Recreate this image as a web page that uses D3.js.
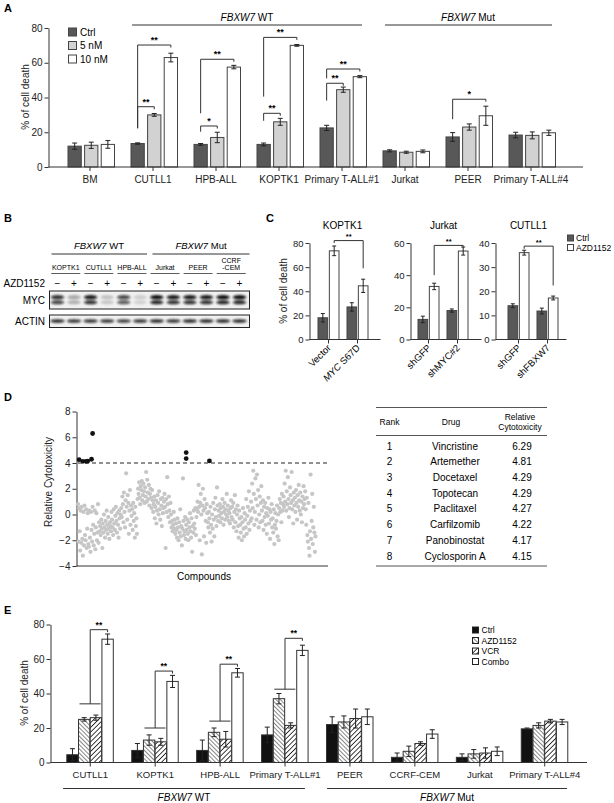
<!DOCTYPE html>
<html>
<head>
<meta charset="utf-8">
<script src="https://cdn.jsdelivr.net/npm/d3@7"></script>
<style>
  body { margin: 0; background: #fff; }
  svg { font-family: "Liberation Sans", Arial, sans-serif; }
  .axis path, .axis line { stroke: #333; }
  .axis text { fill: #222; }
</style>
</head>
<body>
<svg id="fig" width="614" height="803"></svg>
<script>
// ---------- panel A data
var aGroups = ["BM", "CUTLL1", "HPB-ALL", "KOPTK1", "Primary T-ALL#1", "Jurkat", "PEER", "Primary T-ALL#4"];
var aDoses = ["Ctrl", "5 nM", "10 nM"];
var aMean = [[12, 12.5, 13], [13.5, 30, 63], [13, 17, 57.5], [13, 26, 70], [22.5, 44.5, 52], [9.3, 8.5, 9], [17.3, 23, 29.5], [18.4, 18.2, 19.7]];
var aErr = [[1.8, 1.8, 2.2], [0.4, 0.8, 2.5], [0.5, 3, 1], [0.8, 2, 0.5], [1.5, 1.5, 0.6], [0.6, 0.6, 0.8], [2.5, 1.8, 5.5], [1.6, 2, 1.5]];
var aTicks = [0, 20, 40, 60, 80];
var aSig = [
  {g: 1, to: 1, base: 22.3, top: 34.7, label: "**"},
  {g: 1, to: 2, base: 22.3, top: 70.2, label: "**"},
  {g: 2, to: 1, base: 20.3, top: 23.6, label: "*"},
  {g: 2, to: 2, base: 30.9, top: 62, label: "**"},
  {g: 3, to: 1, base: 26.6, top: 30.9, label: "**"},
  {g: 3, to: 2, base: 40.5, top: 74.6, label: "**"},
  {g: 4, to: 1, base: 38.2, top: 48.2, label: "**"},
  {g: 4, to: 2, base: 51, top: 56.4, label: "**"},
  {g: 6, to: 2, base: 27.5, top: 39, label: "*"}
];

// ---------- panel B data
var blotLines = ["KOPTK1", "CUTLL1", "HPB-ALL", "Jurkat", "PEER", "CCRF-CEM"];
var mycLevel = [0.85, 0.3, 0.95, 0.2, 0.75, 0.15, 1, 0.95, 0.95, 0.95, 1, 1];
var actinLevel = [0.9, 0.85, 0.85, 0.85, 0.8, 0.85, 0.9, 0.85, 0.9, 0.9, 0.9, 0.9];

// ---------- panel C data
var cTitles = ["KOPTK1", "Jurkat", "CUTLL1"];
var cGroups = [["Vector", "MYC S67D"], ["shGFP", "shMYC#2"], ["shGFP", "shFBXW7"]];
var cMean = [[[18, 73.5], [27, 44.5]], [[12.5, 33], [18, 55]], [[14, 36], [11.8, 17.2]]];
var cErr = [[[3.5, 4], [3.5, 5.5]], [[2, 2], [1, 2.5]], [[0.8, 1], [1.2, 0.8]]];
var cMax = [80, 60, 40];
var cTicks = [[0, 20, 40, 60, 80], [0, 20, 40, 60], [0, 10, 20, 30, 40]];
var cSig = [{y: 82, left: 80, right: 59}, {y: 58.5, left: 40, right: 57.5}, {y: 38.7, left: 37.6, right: 22.4}];

// ---------- panel D data
var screenScores = [
  0.8, -2.1, 0.5, -1.3, -2.8, 0.3, -2.2, 0.6, -1.9, -3.2, 0.2, -2.4, 0.7, -1.6, -2.0, 0.4, -2.6, -1.1, 0.1, -2.3,
  -2.5, 0.3, -1.8, -2.9, 0.2, -1.2, -2.1, 0.6, -0.8, -2.4, -1.5, 0.3, -2.7, -1.0, 0.1, -2.0, -1.4, 0.8, -2.2, -0.6,
  -1.3, -0.9, -1.6, -0.4, -1.1, -2.6, -0.7, -1.4, 0.0, -1.0, -1.8, -0.5, -1.2, 0.3, -0.8, -1.5, -0.2, -1.1, -1.9, -0.6,
  -0.9, -1.3, 0.2, -0.4, -1.0, -1.6, 0.4, -0.7, -1.2, -0.1, 0.6, -0.5, -1.4, 0.1, -0.8, -1.8, 0.3, -0.3, -1.1, 0.0,
  0.5, -0.2, 1.4, 0.8, -0.6, 1.7, 0.2, -1.0, 1.1, 3.2, 0.6, -0.4, 1.5, 0.9, -1.5, 0.3, 1.9, -0.8, 0.7, -0.1,
  0.4, -1.2, 0.9, -0.5, 0.1, -1.8, 0.6, -0.9, -0.3, -1.5, 1.2, 2.0, 1.6, 2.5, 1.3, 0.8, 2.2, 1.9, 2.6, 1.1,
  1.5, 2.4, 1.8, 0.9, 2.1, 1.4, 3.3, 1.0, 2.7, 1.7, 1.2, 2.3, 0.7, 1.6, 2.0, 1.3, 0.5, 1.9, 1.1, 0.2,
  0.8, 1.4, -0.3, 0.6, 1.1, -0.7, 0.3, 1.5, 0.9, 0.0, 1.8, 0.4, -0.4, 1.2, 0.7, -0.9, 1.3, 0.1, 0.5, 1.0,
  1.6, 0.6, -2.6, 1.2, 0.2, 2.9, 0.8, -0.2, 1.4, 0.3, -0.6, 0.9, 0.0, -1.0, -0.5, -1.3, -0.8, 0.2, -1.1, -0.4,
  -1.5, -0.7, -1.2, -1.8, -0.3, -1.0, -2.0, -0.6, -1.4, 0.4, -1.7, -0.9, -2.4, -1.1, 2.8, -0.5, -1.6, -1.3, -0.2, -1.9,
  -0.8, -1.2, -0.4, -1.5, -2.0, -0.6, -1.0, 0.1, -1.3, -1.8, -0.3, -2.9, -0.9, -1.4, 0.3, -0.7, -1.1, 0.5, -1.6, -0.2,
  0.4, 1.0, 0.2, 2.3, 0.6, -2.0, 0.9, 1.6, 0.0, -3.1, 0.7, 2.0, 0.3, -1.7, 1.2, 0.5, -0.5, -2.2, 0.8, 0.1,
  -0.6, -1.0, 0.2, -0.3, -1.4, 0.6, -0.8, -2.1, 0.0, -1.1, 0.9, -0.4, -1.7, 0.4, 1.3, -0.2, -0.9, 2.1, 0.7, -0.5,
  0.3, -0.1, 0.8, -0.6, 0.5, 0.1, -0.3, 1.2, 0.6, -0.8, 0.2, 0.9, -0.4, 0.4, 0.0, 1.6, -0.2, 0.7, 0.3, -0.5,
  0.1, -0.7, 0.5, 1.1, -0.2, 0.6, -0.4, 0.9, -1.0, 0.2, 1.5, -0.6, 0.4, -1.3, 0.0, 0.7, -0.9, -1.8, 0.3, -0.3,
  -0.8, -1.4, -0.2, -2.0, -0.6, 0.5, -1.1, -1.7, 0.1, -0.4, -1.0, 1.2, -1.5, -0.1, 0.6, -0.7, 1.8, -1.2, 0.3, -0.5,
  1.0, -0.3, 2.4, 0.5, 3.4, 1.6, -0.8, 0.2, 2.8, 1.2, -0.4, 3.1, 0.7, 1.9, -1.0, 0.0, 1.4, -0.6, 0.9, 2.2,
  0.3, -0.5, 1.1, -1.2, 0.6, -0.2, 0.9, -0.8, 0.1, -1.5, 0.5, -0.1, 1.3, -0.7, 0.4, -1.9, 0.2, -0.4, 0.8, -1.0,
  -0.3, -1.4, 0.4, -2.3, -0.8, 0.1, -1.1, -0.5, 0.7, -1.7, 0.0, -2.0, 0.5, 1.2, 0.2, 0.9, -0.6, 1.6, 0.3, 0.8,
  1.4, 0.6, 2.4, 1.0, 3.4, 0.3, 1.8, 0.8, 2.9, 1.2, -0.2, 0.5, 2.1, 1.5, 0.9, 3.3, 0.4, 1.1, -0.7, 1.7,
  0.7, 1.3, 0.2, 1.9, 0.9, -0.4, 1.5, 0.6, 2.3, 1.1, 0.3, 1.7, 0.0, 1.0, -0.6, 1.4, 0.5, 2.2, 0.8, 1.2,
  1.8, 0.4, -0.8, 1.3, -1.6, -2.1, 0.9, -2.6, -3.2, -1.3, 3.1, -1.9, -0.5, 1.6, -2.3, -1.0, 0.6, -1.4, -2.9, -1.7
];
var hitIndex = [2, 9, 15, 18, 25, 27, 200, 200, 243];
var hitScore = [4.26, 4.13, 4.13, 4.15, 4.29, 6.29, 4.81, 4.34, 4.16];
var dTicks = [-4, -2, 0, 2, 4, 6, 8];
var rankList = [1, 2, 3, 4, 5, 6, 7, 8];
var drugList = ["Vincristine", "Artemether", "Docetaxel", "Topotecan", "Paclitaxel", "Carfilzomib", "Panobinostat", "Cyclosporin A"];
var cytoList = ["6.29", "4.81", "4.29", "4.29", "4.27", "4.22", "4.17", "4.15"];

// ---------- panel E data
var eGroups = ["CUTLL1", "KOPTK1", "HPB-ALL", "Primary T-ALL#1", "PEER", "CCRF-CEM", "Jurkat", "Primary T-ALL#4"];
var eTreat = ["Ctrl", "AZD1152", "VCR", "Combo"];
var eMean = [[4.5, 25, 26, 71.5], [7, 13, 12, 47], [7, 17.5, 13.5, 52], [16, 37, 21.5, 65], [22, 23.5, 25.5, 26.5], [3, 6.5, 11, 16.5], [3, 5, 5.5, 6.5], [19.5, 21.5, 24, 23.5]];
var eErr = [[3.5, 1, 1.5, 3], [4, 3, 2, 3.5], [6, 2.5, 4.5, 2.5], [4.5, 3, 1.5, 3], [4.5, 3.5, 5.5, 4.5], [2.5, 3, 1, 2.5], [2, 2.5, 3, 2.5], [0.5, 1.5, 1, 1.5]];
var eTicks = [0, 20, 40, 60, 80];
var eSig = [{g: 0, low: 34, top: 77}, {g: 1, low: 20, top: 53}, {g: 2, low: 24, top: 57}, {g: 3, low: 42.5, top: 72}];

var svg = d3.select("#fig");
var ink = "#333";

// ---------- shared bits
var defs = svg.append("defs");
function hatch(id, angle, gap, w) {
  var p = defs.append("pattern").attr("id", id)
    .attr("patternUnits", "userSpaceOnUse")
    .attr("width", gap).attr("height", gap)
    .attr("patternTransform", "rotate(" + angle + ")");
  p.append("rect").attr("width", gap).attr("height", gap).attr("fill", "#fff");
  p.append("line").attr("x1", 0).attr("y1", 0).attr("x2", 0).attr("y2", gap)
    .attr("stroke", "#111").attr("stroke-width", w);
}
hatch("hatchAzd", -45, 3, 1);
hatch("hatchVcr", 45, 3.4, 1.6);
defs.append("filter").attr("id", "blur").attr("x", "-30%").attr("y", "-80%").attr("width", "160%").attr("height", "260%")
  .append("feGaussianBlur").attr("stdDeviation", 0.9);

function panelLetter(t, x, y) {
  svg.append("text").attr("x", x).attr("y", y).attr("font-size", 11).attr("font-weight", "bold").text(t);
}

function leftAxis(x, scale, ticks, fs) {
  var g = svg.append("g").attr("class", "axis").attr("transform", "translate(" + x + ",0)")
    .call(d3.axisLeft(scale).tickValues(ticks).tickSize(4).tickSizeOuter(0).tickPadding(2).tickFormat(d3.format("d")));
  g.attr("font-family", null).attr("font-size", fs);
  return g;
}

function yLabel(text, x, y, fs) {
  svg.append("text").attr("transform", "translate(" + x + "," + y + ") rotate(-90)")
    .attr("text-anchor", "middle").attr("font-size", fs).attr("fill", "#222").text(text);
}

function errBar(g, x, y0, y1, cap) {
  g.append("line").attr("x1", x).attr("x2", x).attr("y1", y0).attr("y2", y1).attr("stroke", "#222");
  g.append("line").attr("x1", x - cap).attr("x2", x + cap).attr("y1", y0).attr("y2", y0).attr("stroke", "#222");
  g.append("line").attr("x1", x - cap).attr("x2", x + cap).attr("y1", y1).attr("y2", y1).attr("stroke", "#222");
}

function italicLabel(sel, ital, rest) {
  sel.append("tspan").attr("font-style", "italic").text(ital);
  sel.append("tspan").text(rest);
}

// ================= PANEL A =================
panelLetter("A", 4, 12);
var ay = d3.scaleLinear().domain([0, 80]).range([167, 28]);
var ax = d3.scaleBand().domain(aGroups).range([58.5, 562.5]);
var ax1 = d3.scaleBand().domain(aDoses).range([9.5, 56]).paddingInner(0.2);
var aFill = ["#585858", "#d2d2d2", "#ffffff"];

leftAxis(48.5, ay, aTicks, 10);
yLabel("% of cell death", 29, 97, 10);

var aBars = svg.append("g");
aGroups.forEach(function(gname, i) {
  aDoses.forEach(function(dname, j) {
    var x = ax(gname) + ax1(dname);
    aBars.append("rect").attr("x", x).attr("y", ay(aMean[i][j]))
      .attr("width", ax1.bandwidth()).attr("height", ay(0) - ay(aMean[i][j]))
      .attr("fill", aFill[j]).attr("stroke", "#444").attr("stroke-width", 1);
    var cx = x + ax1.bandwidth() / 2;
    errBar(aBars, cx, ay(aMean[i][j] - aErr[i][j]), ay(aMean[i][j] + aErr[i][j]), 2.5);
  });
});

var axX = svg.append("g").attr("class", "axis").attr("transform", "translate(0,167)")
  .call(d3.axisBottom(ax).tickSize(4).tickPadding(5));
axX.select(".domain").remove();
axX.attr("font-family", null).attr("font-size", 10);
svg.append("line").attr("x1", 48.5).attr("x2", 583).attr("y1", 167).attr("y2", 167).attr("stroke", ink);

// significance brackets
aSig.forEach(function(s) {
  var x0 = ax(aGroups[s.g]) + ax1(aDoses[0]) + ax1.bandwidth() / 2;
  var x1 = ax(aGroups[s.g]) + ax1(aDoses[s.to]) + ax1.bandwidth() / 2;
  var yt = ay(s.top);
  svg.append("path").attr("d", "M" + x0 + "," + ay(s.base) + "V" + yt + "H" + x1 + "v2.5")
    .attr("fill", "none").attr("stroke", "#333");
  svg.append("text").attr("x", (x0 + x1) / 2).attr("y", yt - 2).attr("text-anchor", "middle")
    .attr("font-size", 9).attr("font-weight", "bold").text(s.label);
});

// legend
aDoses.forEach(function(d, j) {
  var y = [32, 45.5, 59][j];
  svg.append("rect").attr("x", 68.5).attr("y", y - 4).attr("width", 8).attr("height", 8)
    .attr("fill", aFill[j]).attr("stroke", "#444");
  svg.append("text").attr("x", 80).attr("y", y + 3.5).attr("font-size", 10).text(d);
});

// genotype headers
svg.append("line").attr("x1", 132).attr("x2", 362).attr("y1", 25).attr("y2", 25).attr("stroke", ink);
svg.append("line").attr("x1", 385).attr("x2", 552).attr("y1", 25).attr("y2", 25).attr("stroke", ink);
italicLabel(svg.append("text").attr("x", 247).attr("y", 21).attr("text-anchor", "middle").attr("font-size", 10), "FBXW7", " WT");
italicLabel(svg.append("text").attr("x", 468).attr("y", 21).attr("text-anchor", "middle").attr("font-size", 10), "FBXW7", " Mut");

// ================= PANEL B =================
panelLetter("B", 4, 222);
var lane = d3.scalePoint().domain(d3.range(12)).range([57.5, 239.5]);
italicLabel(svg.append("text").attr("x", 99).attr("y", 249).attr("text-anchor", "middle").attr("font-size", 9.5), "FBXW7", " WT");
italicLabel(svg.append("text").attr("x", 201).attr("y", 249).attr("text-anchor", "middle").attr("font-size", 9.5), "FBXW7", " Mut");
svg.append("line").attr("x1", 51.5).attr("x2", 147).attr("y1", 254).attr("y2", 254).attr("stroke", ink);
svg.append("line").attr("x1", 152.5).attr("x2", 249.5).attr("y1", 254).attr("y2", 254).attr("stroke", ink);

blotLines.forEach(function(name, k) {
  var cx = (lane(2 * k) + lane(2 * k + 1)) / 2;
  var t = svg.append("text").attr("x", cx).attr("text-anchor", "middle").attr("font-size", 7);
  if (name === "CCRF-CEM") {
    t.attr("y", 263).text("CCRF");
    svg.append("text").attr("x", cx).attr("y", 270).attr("text-anchor", "middle").attr("font-size", 7).text("-CEM");
  } else {
    t.attr("y", 270).text(name);
  }
  svg.append("line").attr("x1", cx - 14.5).attr("x2", cx + 14.5).attr("y1", 273.5).attr("y2", 273.5)
    .attr("stroke", ink).attr("stroke-width", 0.8);
});

svg.append("text").attr("x", 45).attr("y", 286.5).attr("text-anchor", "end").attr("font-size", 10).text("AZD1152");
d3.range(12).forEach(function(i) {
  svg.append("text").attr("x", lane(i)).attr("y", 286.5).attr("text-anchor", "middle")
    .attr("font-size", 10).text(i % 2 ? "+" : "\u2212");
});

svg.append("text").attr("x", 45).attr("y", 303.5).attr("text-anchor", "end").attr("font-size", 10).text("MYC");
svg.append("text").attr("x", 45).attr("y", 324.5).attr("text-anchor", "end").attr("font-size", 10).text("ACTIN");
svg.append("rect").attr("x", 49.5).attr("y", 291).attr("width", 200).attr("height", 18)
  .attr("fill", "#f1f1f1").attr("stroke", "#222");
svg.append("rect").attr("x", 49.5).attr("y", 315).attr("width", 200).attr("height", 12.5)
  .attr("fill", "#f1f1f1").attr("stroke", "#222");

var bands = svg.append("g").attr("filter", "url(#blur)");
mycLevel.forEach(function(v, i) {
  bands.append("ellipse").attr("cx", lane(i)).attr("cy", 297.2).attr("rx", 6.8).attr("ry", 2.1)
    .attr("fill", "#111").attr("opacity", v);
  bands.append("ellipse").attr("cx", lane(i)).attr("cy", 302.3).attr("rx", 6.8).attr("ry", 2.0)
    .attr("fill", "#111").attr("opacity", v * 0.9);
});
actinLevel.forEach(function(v, i) {
  bands.append("ellipse").attr("cx", lane(i)).attr("cy", 321).attr("rx", 7.2).attr("ry", 1.7)
    .attr("fill", "#111").attr("opacity", v);
});

// ================= PANEL C =================
panelLetter("C", 266, 222);
var cAxisX = [309.5, 410.5, 495.5];
var cBandStart = [314, 414, 504];
var cFill = ["#585858", "#ffffff"];
var cy0 = 339.5, cyTop = 243;

cTitles.forEach(function(title, k) {
  var y = d3.scaleLinear().domain([0, cMax[k]]).range([cy0, cyTop]);
  var x = d3.scaleBand().domain(cGroups[k]).range([cBandStart[k], cBandStart[k] + 58]);
  var x1 = d3.scaleBand().domain([0, 1]).range([4, 25]).paddingInner(0.15);
  var g = svg.append("g");

  leftAxis(cAxisX[k], y, cTicks[k], 9.5);
  svg.append("line").attr("x1", cAxisX[k]).attr("x2", cAxisX[k] + 71).attr("y1", cy0).attr("y2", cy0).attr("stroke", ink);
  svg.append("text").attr("x", cAxisX[k] + 33).attr("y", 228.5).attr("text-anchor", "middle").attr("font-size", 10).text(title);

  cGroups[k].forEach(function(gname, i) {
    [0, 1].forEach(function(j) {
      var bx = x(gname) + x1(j);
      var v = cMean[k][i][j], e = cErr[k][i][j];
      g.append("rect").attr("x", bx).attr("y", y(v)).attr("width", x1.bandwidth()).attr("height", cy0 - y(v))
        .attr("fill", cFill[j]).attr("stroke", "#444");
      errBar(g, bx + x1.bandwidth() / 2, y(v - e), y(v + e), 2);
    });
    var tx = x(gname) + 14.5;
    g.append("line").attr("x1", tx).attr("x2", tx).attr("y1", cy0).attr("y2", cy0 + 4).attr("stroke", ink);
    var lab = g.append("text").attr("text-anchor", "end").attr("font-size", 9.5)
      .attr("transform", "translate(" + (tx + 3) + "," + (cy0 + 9) + ") rotate(-45)");
    if (gname === "MYC S67D") italicLabel(lab, "MYC", " S67D");
    else lab.text(gname);
  });

  // bracket between the two AZD1152 bars
  var s = cSig[k];
  var xa = x(cGroups[k][0]) + x1(1) + x1.bandwidth() / 2;
  var xb = x(cGroups[k][1]) + x1(1) + x1.bandwidth() / 2;
  g.append("path").attr("d", "M" + xa + "," + y(s.left) + "V" + y(s.y) + "H" + xb + "V" + y(s.right))
    .attr("fill", "none").attr("stroke", "#333");
  g.append("text").attr("x", (xa + xb) / 2).attr("y", y(s.y) - 1.5).attr("text-anchor", "middle")
    .attr("font-size", 7.5).attr("font-weight", "bold").text("**");
});
yLabel("% of cell death", 287, 291, 10);

// legend
["Ctrl", "AZD1152"].forEach(function(d, j) {
  var y = [238, 247.5][j];
  svg.append("rect").attr("x", 567.5).attr("y", y - 3).attr("width", 6).attr("height", 6)
    .attr("fill", cFill[j]).attr("stroke", "#444");
  svg.append("text").attr("x", 576).attr("y", y + 3).attr("font-size", 8.5).text(d);
});

// ================= PANEL D =================
panelLetter("D", 4, 401);
var dx = d3.scaleLinear().domain([0, screenScores.length]).range([78, 316]);
var dy = d3.scaleLinear().domain([-4, 8]).range([566, 411.5]);
leftAxis(76.5, dy, dTicks, 10);
svg.append("line").attr("x1", 76.5).attr("x2", 328).attr("y1", 566).attr("y2", 566).attr("stroke", ink);
yLabel("Relative Cytotoxicity", 52, 482, 10);
svg.append("text").attr("x", 204).attr("y", 580).attr("text-anchor", "middle").attr("font-size", 10).text("Compounds");

svg.append("g").selectAll("circle").data(screenScores).join("circle")
  .attr("cx", function(d, i) { return dx(i); })
  .attr("cy", function(d) { return dy(d); })
  .attr("r", 2.1).attr("fill", "#c6c6c6");
svg.append("line").attr("x1", 78).attr("x2", 328).attr("y1", dy(4)).attr("y2", dy(4))
  .attr("stroke", "#222").attr("stroke-dasharray", "4,3");
svg.append("g").selectAll("circle").data(hitScore).join("circle")
  .attr("cx", function(d, i) { return dx(hitIndex[i]); })
  .attr("cy", function(d) { return dy(d); })
  .attr("r", 2.4).attr("fill", "#111");

// table
var tx0 = 376, tx1 = 547;
var colRank = 389.5, colDrug = 455, colCyto = 522;
svg.append("line").attr("x1", tx0).attr("x2", tx1).attr("y1", 407.5).attr("y2", 407.5).attr("stroke", "#555").attr("stroke-width", 1.2);
svg.append("line").attr("x1", tx0).attr("x2", tx1).attr("y1", 435.5).attr("y2", 435.5).attr("stroke", "#555").attr("stroke-width", 1.2);
svg.append("line").attr("x1", tx0).attr("x2", tx1).attr("y1", 566).attr("y2", 566).attr("stroke", "#555").attr("stroke-width", 1.2);
svg.append("text").attr("x", colRank).attr("y", 425).attr("text-anchor", "middle").attr("font-size", 8.5).text("Rank");
svg.append("text").attr("x", 451).attr("y", 425).attr("text-anchor", "middle").attr("font-size", 8.5).text("Drug");
svg.append("text").attr("x", 520).attr("y", 419.5).attr("text-anchor", "middle").attr("font-size", 8.5).text("Relative");
svg.append("text").attr("x", 520).attr("y", 430).attr("text-anchor", "middle").attr("font-size", 8.5).text("Cytotoxicity");
var rowY = d3.scaleLinear().domain([0, 7]).range([449.5, 559.5]);
rankList.forEach(function(r, i) {
  var y = rowY(i);
  svg.append("text").attr("x", colRank).attr("y", y).attr("text-anchor", "middle").attr("font-size", 10).text(r);
  svg.append("text").attr("x", colDrug).attr("y", y).attr("text-anchor", "middle").attr("font-size", 10).text(drugList[i]);
  svg.append("text").attr("x", colCyto).attr("y", y).attr("text-anchor", "middle").attr("font-size", 10).text(cytoList[i]);
});

// ================= PANEL E =================
panelLetter("E", 4, 614);
var ey = d3.scaleLinear().domain([0, 80]).range([762.5, 624.5]);
var ex = d3.scaleBand().domain(eGroups).range([57.8, 577.2]);
var ex1 = d3.scaleBand().domain(eTreat).range([9, 55.5]).paddingInner(0.03);
var eFill = ["#111", "url(#hatchAzd)", "url(#hatchVcr)", "#fff"];

leftAxis(50.5, ey, eTicks, 10);
yLabel("% of cell death", 28, 693, 10);

var eBars = svg.append("g");
eGroups.forEach(function(gname, i) {
  eTreat.forEach(function(t, j) {
    var x = ex(gname) + ex1(t);
    var v = eMean[i][j], e = eErr[i][j];
    eBars.append("rect").attr("x", x).attr("y", ey(v)).attr("width", ex1.bandwidth()).attr("height", ey(0) - ey(v))
      .attr("fill", eFill[j]).attr("stroke", "#333");
    errBar(eBars, x + ex1.bandwidth() / 2, ey(v - e), ey(v + e), 2.5);
  });
});

var exAxis = svg.append("g").attr("class", "axis").attr("transform", "translate(0,762.5)")
  .call(d3.axisBottom(ex).tickSize(4).tickPadding(5));
exAxis.select(".domain").remove();
exAxis.attr("font-family", null).attr("font-size", 9.5);
svg.append("line").attr("x1", 50.5).attr("x2", 587).attr("y1", 762.5).attr("y2", 762.5).attr("stroke", ink);

eSig.forEach(function(s) {
  var g0 = ex(eGroups[s.g]);
  var xa = g0 + ex1("AZD1152") + 1, xb = g0 + ex1("VCR") + ex1.bandwidth() - 1;
  var xm = g0 + ex1("VCR");
  var xc = g0 + ex1("Combo") + ex1.bandwidth() / 2;
  svg.append("path").attr("d", "M" + xa + "," + ey(s.low) + "H" + xb + "M" + xm + "," + ey(s.low) + "V" + ey(s.top) + "H" + xc + "v2.5")
    .attr("fill", "none").attr("stroke", "#333");
  svg.append("text").attr("x", (xm + xc) / 2).attr("y", ey(s.top) - 2).attr("text-anchor", "middle")
    .attr("font-size", 8.5).attr("font-weight", "bold").text("**");
});

// legend
eTreat.forEach(function(t, j) {
  var y = 630 + j * 10.5;
  svg.append("rect").attr("x", 472.5).attr("y", y - 3).attr("width", 6).attr("height", 6)
    .attr("fill", eFill[j]).attr("stroke", "#222");
  svg.append("text").attr("x", 481.5).attr("y", y + 3).attr("font-size", 8.5).text(t);
});

svg.append("line").attr("x1", 63).attr("x2", 305).attr("y1", 788.5).attr("y2", 788.5).attr("stroke", ink);
svg.append("line").attr("x1", 327).attr("x2", 567).attr("y1", 788.5).attr("y2", 788.5).attr("stroke", ink);
italicLabel(svg.append("text").attr("x", 184).attr("y", 801).attr("text-anchor", "middle").attr("font-size", 10), "FBXW7", " WT");
italicLabel(svg.append("text").attr("x", 447).attr("y", 801).attr("text-anchor", "middle").attr("font-size", 10), "FBXW7", " Mut");
</script>
</body>
</html>
